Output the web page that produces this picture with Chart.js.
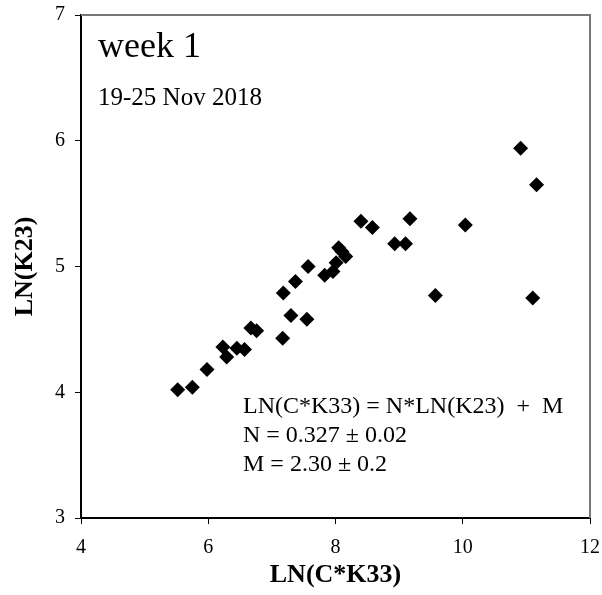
<!DOCTYPE html>
<html>
<head>
<meta charset="utf-8">
<script src="https://cdn.jsdelivr.net/npm/chart.js@4/dist/chart.umd.min.js"></script>
<style>
  html,body{margin:0;padding:0;background:#fff;}
  #wrap{width:602px;height:595px;position:relative;}
</style>
</head>
<body>
<div id="wrap"><canvas id="myChart"></canvas></div>
<script>
// LN(C*K33) values, week 1
var lnCK33 = [5.52,5.75,5.98,6.23,6.29,6.45,6.57,6.67,6.76,7.17,7.30,7.55,7.18,7.37,7.57,7.83,7.96,8.01,8.05,8.10,8.16,8.40,8.58,8.93,9.10,9.17,9.57,10.04,10.91,11.16,11.10];
// LN(K23) values
var lnK23  = [4.02,4.04,4.18,4.36,4.28,4.35,4.34,4.51,4.49,4.43,4.61,4.58,4.79,4.88,5.00,4.93,4.96,5.03,5.15,5.12,5.08,5.36,5.31,5.18,5.18,5.38,4.77,5.33,5.94,5.65,4.75];

var xTicks = [4,6,8,10,12];
var yTicks = [3,4,5,6,7];

var titleLines = ['week 1','19-25 Nov 2018'];
var fitLines = ['LN(C*K33) = N*LN(K23)  +  M','N = 0.327 \u00b1 0.02','M = 2.30 \u00b1 0.2'];

var points = [];
for(var i=0;i<lnCK33.length;i++){
	points.push({x:lnCK33[i], y:lnK23[i]});
}

var serif = "'Liberation Serif','Times New Roman',serif";

//frame + annotations
var textPlugin = {
	id:'textPlugin',
	afterDraw:function(chart){
		var c = chart.ctx, a = chart.chartArea;
		c.save();
		// grey top / right frame
		c.strokeStyle='#777';
		c.lineWidth=2;
		c.beginPath();
		c.moveTo(a.left,a.top); c.lineTo(a.right,a.top); c.lineTo(a.right,a.bottom);
		c.stroke();

		c.fillStyle='#000';
		c.textBaseline='middle';
		c.textAlign='left';
		c.font='36px '+serif;
		c.fillText(titleLines[0], a.left+17, a.top+33);
		c.font='25px '+serif;
		c.fillText(titleLines[1], a.left+17, a.top+83);

		c.font='24px '+serif;
		for(var j=0;j<fitLines.length;j++){
			c.fillText(fitLines[j], a.left+162, a.top+392+j*29);
		}
		c.restore();
	}
};

var ctx = document.getElementById('myChart');
new Chart(ctx,{
	type:'scatter',
	data:{
		datasets:[{
			data:points,
			pointStyle:'rectRot',
			pointRadius:7.5,
			pointHoverRadius:7.5,
			backgroundColor:'#000',
			borderColor:'#000',
			borderWidth:0
		}]
	},
	options:{
		responsive:true,
		maintainAspectRatio:false,
		animation:false,
		layout:{padding:{top:15,right:12,left:0,bottom:0}},
		plugins:{legend:{display:false},tooltip:{enabled:false}},
		scales:{
			x:{
				type:'linear',
				min:4,max:12,
				afterBuildTicks:function(s){ s.ticks = xTicks.map(function(v){return {value:v};}); },
				afterFit:function(s){ s.height = 77; s.paddingLeft = 0; s.paddingRight = 0; },
				grid:{drawOnChartArea:false,color:'#000',tickLength:6,tickWidth:1},
				border:{color:'#000',width:2},
				ticks:{color:'#000',padding:12,font:{family:serif,size:20},maxRotation:0},
				title:{display:true,text:'LN(C*K33)',color:'#000',font:{family:serif,size:26,weight:'bold'},padding:{top:0,bottom:4}}
			},
			y:{
				type:'linear',
				min:3,max:7,
				afterBuildTicks:function(s){ s.ticks = yTicks.map(function(v){return {value:v};}); },
				afterFit:function(s){ s.width = 81; s.paddingTop = 0; s.paddingBottom = 0; },
				grid:{drawOnChartArea:false,color:'#000',tickLength:6,tickWidth:1},
				border:{color:'#000',width:2},
				ticks:{color:'#000',padding:10,font:{family:serif,size:20}},
				title:{display:true,text:'LN(K23)',color:'#000',font:{family:serif,size:26,weight:'bold'},padding:{top:10,bottom:0}}
			}
		}
	},
	plugins:[textPlugin]
});
</script>
</body>
</html>
